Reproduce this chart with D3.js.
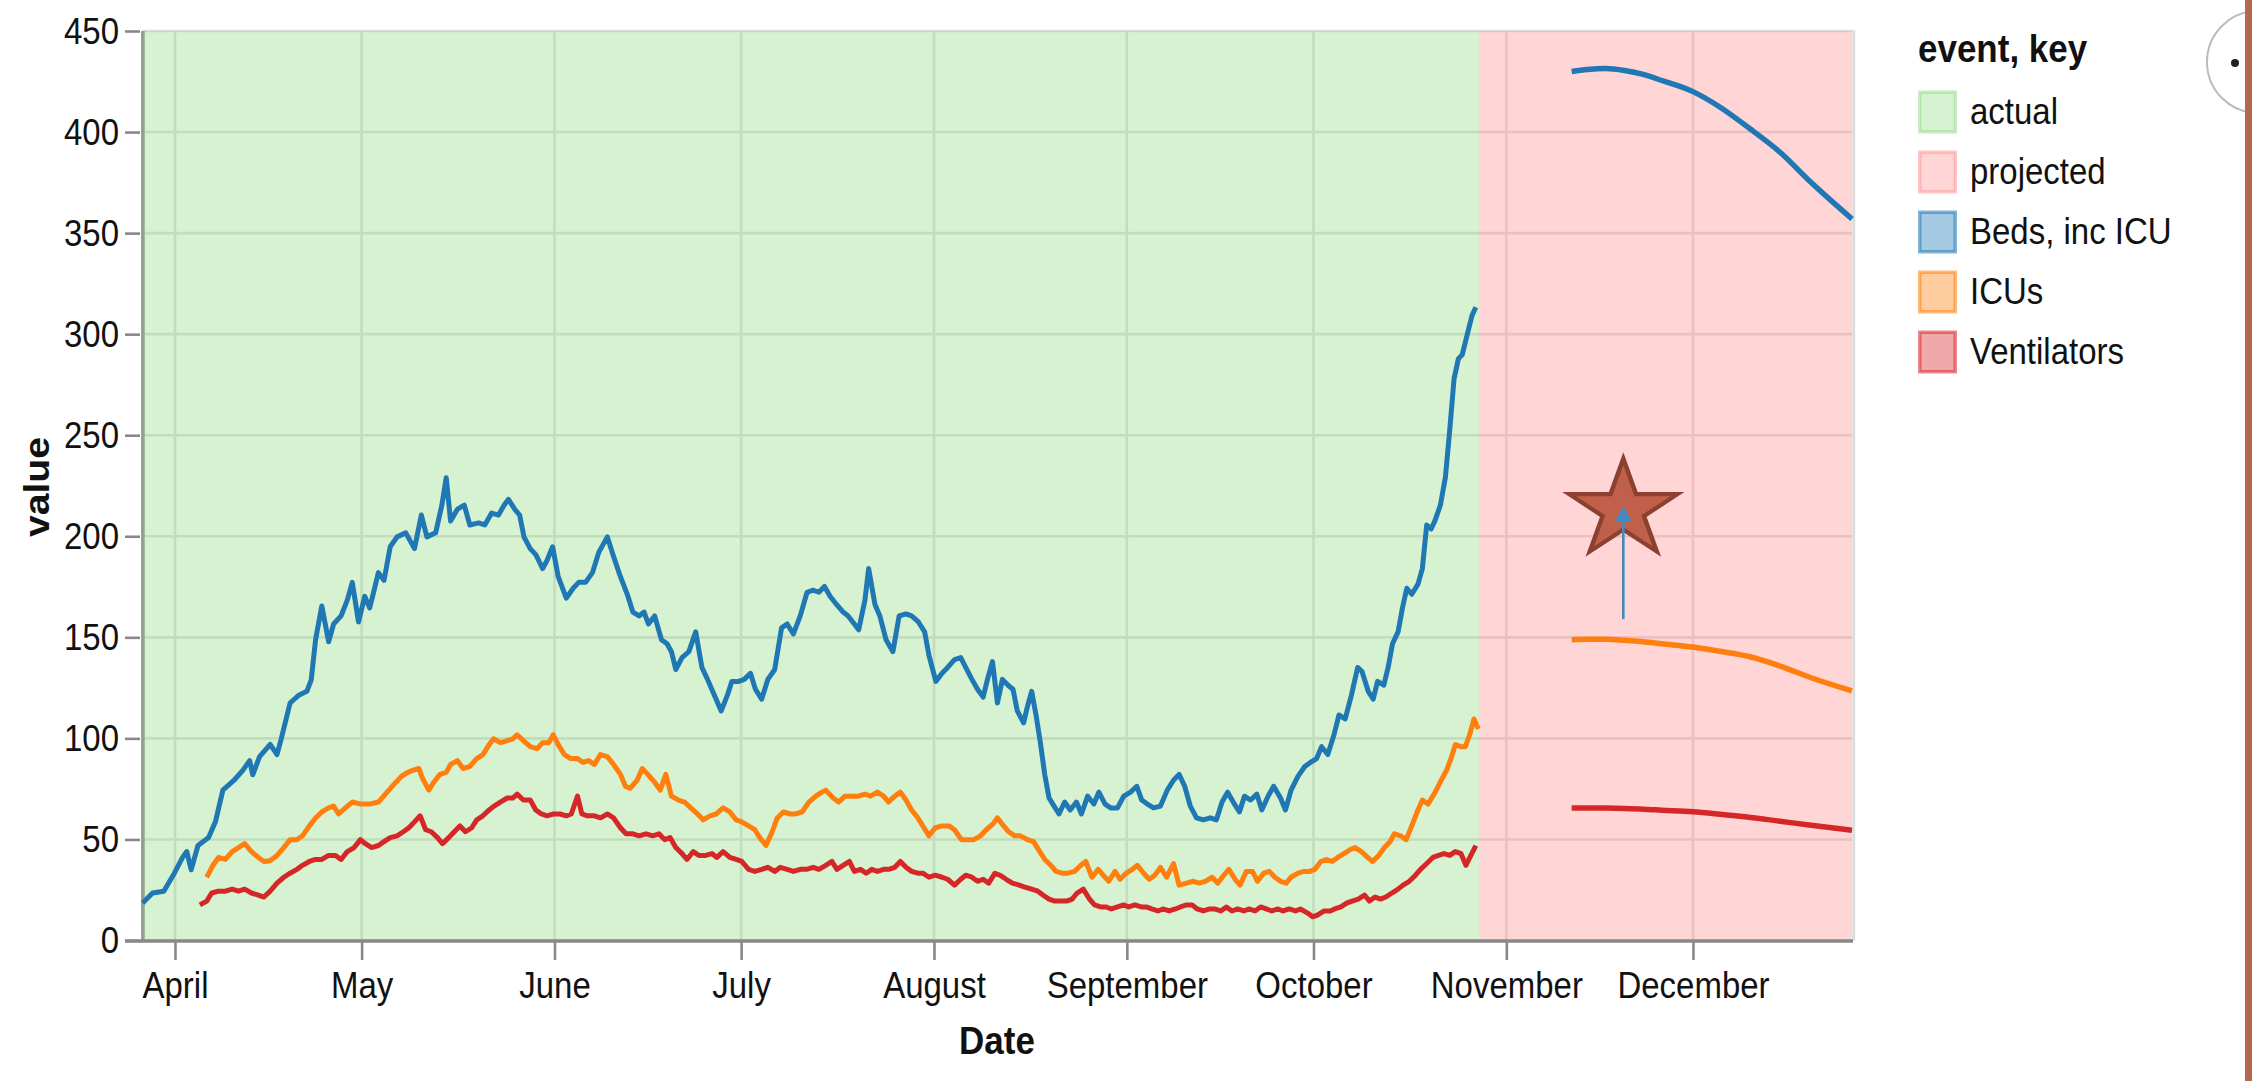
<!DOCTYPE html>
<html><head><meta charset="utf-8">
<script src="https://cdn.jsdelivr.net/npm/d3@7"></script>
<style>body{margin:0;background:#fff;overflow:hidden}svg{display:block}</style>
</head><body>
<svg id="chart" width="2252" height="1081"></svg>
<script>
// ---------------- DATA ----------------
// x positions are days counted from 1 April 2020
const dayZero = "2020-04-01T00:00Z";
const monthTickDays = [0, 30, 61, 91, 122, 153, 183, 214, 244];
const monthTickLabels = ["April","May","June","July","August","September","October","November","December"];
const yTickValues = [0,50,100,150,200,250,300,350,400,450];
const xDomainDays = [-5.22, 269.56];

const eventNames = ["actual","projected"];
const eventStartDays = [-5.22, 209.6];
const eventEndDays   = [209.6, 269.56];

const seriesKeys = ["Beds, inc ICU","ICUs","Ventilators"];

const bedsDays = [-5.2,-3.6,-1.8,-0.1,1.2,1.9,2.6,3.7,5.4,6.5,7.7,9.5,10.9,12,12.5,13.6,15.3,16.4,17.1,18.5,19.9,21.2,21.9,22.6,23.6,24.7,25.5,26.7,27.7,28.5,29.5,30.5,31.3,32.7,33.6,34.6,35.7,37.1,38.5,39.6,40.5,41.9,42.9,43.6,44.3,45.4,46.5,47.4,48.8,49.8,50.9,52,52.9,53.6,54.6,55.4,56.1,57.1,58,59.1,59.8,60.7,61.6,62.9,64,64.9,66,67.1,68.1,69.5,70.5,71.6,72.7,73.6,74.6,75.4,76.1,77.1,78.2,79.1,79.8,80.5,81.5,82.6,83.7,84.7,85.6,86.7,87.8,88.8,89.5,90.6,91.5,92.5,93.3,94.3,95.3,96.4,97.5,98.4,99.4,100.5,101.6,102.6,103.5,104.4,105.3,106.3,107.4,108.2,109.2,109.9,110.9,111.5,112.5,113.3,114.3,115.4,116.4,117.5,118.4,119.5,120.5,121.2,122.3,123.3,124.2,125.3,126.3,127.1,128.1,129,129.9,130.6,131.4,132.2,133,133.9,134.7,135.4,136.4,137,137.7,138.4,139.1,139.8,140.5,141.3,142.1,143,143.9,144.9,145.7,146.7,147.7,148.5,149.5,150.4,151.5,152.5,153.6,154.6,155.4,156.3,157.3,158.4,159.5,160.5,161.4,162.3,163.2,164.2,165.3,166.4,167.4,168.3,169.2,170.1,171.1,171.9,172.9,173.9,174.7,175.7,176.6,177.7,178.5,179.4,180.5,181.6,182.5,183.5,184.3,185.3,186.3,187.1,188.1,189.1,190.1,190.8,191.8,192.6,193.3,194.3,195,195.7,196.6,197.3,198,198.8,199.8,200.5,201.2,201.9,202.5,203.4,204.2,204.9,205.6,206.3,206.9,207.7,208.5,209.1];
const bedsValues = [18.6,23.5,24.4,33.3,41,44,35,47,51,58.7,74.4,79.3,84.2,89,82,91,97,92,100,117.5,121.4,123.3,129,148.8,165.5,147.8,156.6,160.6,168.4,177.2,157.6,170.3,164.5,182,178.2,194.8,199.7,201.7,193.9,210.5,199.7,201.7,215.4,229,207.5,213.4,215.4,205.6,206.6,205.6,211.5,210.5,215.4,218.3,213.4,210.5,199.7,193.9,190.9,184,188,194.8,180,169.4,174.3,177.2,177.2,182,191.9,199.7,190,180,171.3,162.5,160.6,162.5,156.6,160.6,148.8,146.8,142.9,134.1,140,142.9,152.7,135.1,129.2,121.4,113.6,121.4,128.2,128.2,129.2,132.2,124.3,119.4,129.2,134.1,154.7,156.6,151.7,160.6,172.3,173.3,172.3,175.2,170.3,166.4,162.5,160.6,156.6,153.7,168.4,184,166.4,160.6,148.8,142.9,160.6,161.6,160.6,157.6,152.7,141,128.2,132.2,135.1,139,140,135.1,129.2,124.3,120.4,129.2,138,117.5,129.2,126.3,124.3,113.6,107.7,115.5,123.3,111.6,97.9,82.2,70.5,66.5,62.6,68.5,64.6,68.5,62.6,71.4,67.5,73.4,67.5,65.6,65.6,71.4,73.4,76.3,69.5,67.5,65.6,66.5,74.4,79.3,82.2,76.3,66.5,60.7,59.7,60.7,59.7,68.5,73.4,68.5,63.6,71.4,69.5,72.4,64.6,71.4,76.3,70.5,64.6,74.4,81.2,86.1,88.1,90,95.9,92,101.8,111.6,109.6,121.4,135.1,133.1,123.3,119.4,128.2,126.3,135.1,146.8,152.7,164.5,174.3,171.3,176.3,184,205.6,203.6,207.5,215.4,229.1,252.6,278,287.9,289.8,299.6,309.4,313.3];

const icuDays = [5.1,6.1,7,8.1,9.2,10.2,11.2,12.3,13.4,14.3,15.3,16.4,17.5,18.5,19.6,20.5,21.6,22.6,23.6,24.7,25.5,26.3,27.4,28.5,29.9,31.3,32.7,34.1,35.2,36.4,37.4,38.2,39.2,39.8,40.8,41.6,42.6,43.6,44.3,45.4,46.3,47.4,48.5,49.5,50.5,51.2,52.3,53.4,54.3,55,56,57.1,58.2,59.1,60.1,60.8,61.6,62.6,63.6,64.7,65.6,66.5,67.4,68.4,69.5,70.5,71.6,72.4,73.2,74.3,75.1,76,77.1,78,78.9,79.8,80.9,81.9,82.9,84,84.9,86,87,88.1,89.2,90.2,91.1,92.2,93.2,94,95,96,96.8,97.8,98.9,99.8,100.8,101.9,103,104,104.6,105.8,106.7,107.7,108.8,109.9,110.9,111.8,112.9,113.9,114.7,115.7,116.6,117.5,118.4,119.4,120.2,121.2,122.2,123.3,124.4,125.3,126.4,127.4,128.4,129.5,130.4,131.5,132.2,133.2,134,135,135.9,137,138,138.8,139.8,140.8,141.6,142.6,143.5,144.6,145.6,146.4,147.4,148.4,149.2,150.1,151.1,151.9,152.9,153.9,154.7,155.7,156.6,157.5,158.4,159.4,160.5,161.4,162.6,163.7,164.6,165.6,166.7,167.6,168.6,169.4,170.4,171.2,172.2,173.2,174,175,175.9,176.8,177.7,178.6,179.4,180.5,181.5,182.4,183.2,184.2,185,186,186.9,187.9,188.9,189.7,190.7,191.7,192.5,193.5,194.4,195.3,196,197,197.9,198.8,199.8,200.5,201.4,202.2,202.9,203.7,204.4,205.1,205.8,206.7,207.4,208.1,208.8,209.5];
const icuValues = [31.3,37.2,41.1,40.1,44,46,47.9,44,41.1,39.1,39.5,42.1,46,49.9,49.9,51.8,56.7,60.6,63.6,65.6,66.5,62.6,65.6,68.5,67.5,67.5,68.5,73.4,77.3,81.2,83.2,84.2,85.1,80.2,74.4,78.3,82.2,83.2,87.1,89,85.1,86.1,90,92,96.9,99.8,97.9,98.9,99.8,101.8,98.9,95.9,94.9,97.9,97.9,101.8,96.9,92,90,90,88.1,89,87.1,92,91,87.1,82.2,76.3,75.4,79.3,85.1,82.2,78.3,74.4,82.2,71.4,69.5,68.5,65.6,62.6,59.7,61.7,62.6,65.6,63.6,59.7,58.7,56.7,54.8,50.9,47,53.8,60.6,63.6,62.6,62.6,63.6,68.5,71.4,73.4,74.4,70.5,68.5,71.4,71.4,71.4,72.4,71.4,73.4,71.4,68.5,71.4,73.4,69.5,64.6,60.7,56.7,51.8,55.8,56.7,56.7,54.8,49.9,49.9,49.9,51.8,54.8,57.7,60.7,56.7,53.8,51.8,51.8,49.9,48.9,45,40.1,37.2,34.2,33.3,33.3,34.2,37.2,39.1,31.3,35.2,32.3,29.3,34.2,30.3,33.3,35.2,37.2,33.3,30.3,32.3,36.2,31.3,38.1,27.4,28.4,29.3,28.4,29.3,31.3,28.4,32.3,35.2,30.3,27.4,34.2,34.2,29.3,33.3,34.2,31.3,29.3,28.4,31.3,33.3,34.2,34.2,35.2,39.1,40.1,39.1,41.1,43,45,46,44,41.1,39.1,42.1,46,48.9,52.8,51.8,49.9,56.7,64.6,69.5,67.5,71.4,75.4,80.3,84.2,90,96.9,95.9,95.9,101.8,109.6,104.7];

const ventDays = [4,5.1,5.9,7,8.1,9.2,10.2,11.2,12.3,13.4,14.3,15.3,16.4,17.5,18.5,19.6,20.5,21.6,22.6,23.6,24.7,25.8,26.7,27.7,28.8,29.8,30.6,31.6,32.7,33.6,34.6,35.7,36.7,37.6,38.5,39.4,40.3,41.2,42.2,43,44,44.9,45.8,46.7,47.7,48.5,49.5,50.5,51.3,52.3,53.4,54.3,55,56,57.1,58,58.9,59.8,60.8,61.9,62.9,63.7,64.7,65.4,66.3,67.4,68.4,69.5,70.5,71.6,72.5,73.6,74.6,75.7,76.8,77.8,78.7,79.6,80.5,81.5,82.3,83.3,84.2,85.3,86.3,87.1,88.1,89.2,90.2,91.1,92.2,93.2,94.3,95.3,96.4,97.3,98.4,99.4,100.5,101.5,102.6,103.5,104.6,105.6,106.4,107.4,108.4,109.2,110.2,111.1,112,112.9,113.9,114.7,115.7,116.6,117.5,118.4,119.4,120.2,121.2,122.2,123.3,124.2,125.3,126.3,127.1,128.1,129,129.9,130.8,131.8,132.6,133.6,134.6,135.7,136.6,137.7,138.7,139.5,140.5,141.4,142.3,143.3,144.2,145,146,147,147.8,148.8,149.7,150.5,151.5,152.5,153.3,154.3,155.3,156.1,157,158,158.8,159.8,160.8,161.6,162.6,163.5,164.3,165.3,166.3,167.1,168.1,169,169.9,170.8,171.8,172.6,173.6,174.5,175.4,176.3,177.3,178.1,179.1,180.1,180.9,182,182.9,183.7,184.7,185.7,186.4,187.4,188.4,189.2,190.2,191.2,192,192.9,193.8,194.6,195.6,196.6,197.4,198.4,199.4,200.2,201.2,202.2,203.1,204,204.9,205.8,206.7,207.5,208.3,209.1];
const ventValues = [17.6,19.5,23.5,24.4,24.4,25.4,24.4,25.4,23.5,22.5,21.5,24.4,28.4,31.3,33.3,35.2,37.2,39.1,40.1,40.1,42.1,42.1,40.1,44,46,49.9,47.9,46,47,48.9,50.9,51.8,53.8,55.8,58.7,61.7,54.8,53.8,50.9,47.9,50.9,53.8,56.7,53.8,55.8,59.7,61.7,64.6,66.5,68.5,70.5,70.5,72.4,69.5,69.5,64.6,62.6,61.7,62.6,62.6,61.7,62.6,71.4,62.6,61.7,61.7,60.7,62.6,60.7,55.8,52.8,52.8,51.8,52.8,51.8,52.8,49.9,50.9,46,43,40.1,44,42.1,42.1,43,41.1,44,41.1,40.1,39.1,35.2,34.2,35.2,36.2,34.2,36.2,35.2,34.2,35.2,35.2,36.2,35.2,37.2,39.1,35.2,37.2,39.1,34.2,35.2,33.3,35.2,34.2,35.2,35.2,36.2,39.1,36.2,34.2,33.3,33.3,31.3,32.3,31.3,30.3,27.4,30.3,32.3,31.3,29.3,30.3,28.4,33.3,32.3,30.3,28.4,27.4,26.4,25.4,24.4,22.5,20.5,19.5,19.5,19.5,20.5,23.5,25.4,20.5,17.6,16.6,16.6,15.6,16.6,17.6,16.6,17.6,16.6,16.6,15.6,14.6,15.6,14.6,15.6,16.6,17.6,17.6,15.6,14.6,15.6,15.6,14.6,16.6,14.6,15.6,14.6,15.6,14.6,16.6,15.6,14.6,15.6,14.6,15.6,14.6,15.6,13.7,11.7,12.7,14.6,14.6,15.6,16.6,18.6,19.5,20.5,22.5,19.5,21.5,20.5,21.5,23.5,25.4,27.4,29.3,32.3,35.2,38.1,41.1,42.1,43,42.1,44,43,37.2,42.1,47];

const projDays = [224.5,227,230,233,236,239,244,248,253,258,263,269.56];
const bedsProj = [430,431,431.5,430.5,428.5,425.5,420,413,402,390,375,357];
const icuProj  = [148.8,149,149,148.5,147.8,146.8,145.2,143.2,140.5,135.8,130,123.5];
const ventProj = [65.6,65.6,65.5,65.3,65,64.5,63.7,62.6,61,59,57,54.6];

const starDay = 232.8;
const starValue = 213;
const arrowFromValue = 159;
const arrowToValue = 215;

// ---------------- COLORS ----------------
const eventColors = ["#98df8a","#ff9896"];
const seriesColors = ["#1f77b4","#ff7f0e","#d62728"];

// ---------------- SCALES ----------------
const H = 1081;
const t0 = new Date(dayZero).getTime();
const toDate = d => new Date(t0 + d * 864e5);

const x = d3.scaleUtc().domain(xDomainDays.map(toDate)).range([142.5, 1852]);
const y = d3.scaleLinear().domain([0, 450]).range([940.5, 31]);

const svg = d3.select("#chart");
const FONT = "'Liberation Sans', Arial, Helvetica, sans-serif";
const STRETCH = 1.12;

// grid (under the tinted event rects)
const grid = svg.append("g");
grid.selectAll("line.v").data(monthTickDays).join("line")
  .attr("x1", d => x(toDate(d))).attr("x2", d => x(toDate(d)))
  .attr("y1", y(450)).attr("y2", y(0))
  .attr("stroke", "#ddd").attr("stroke-width", 2.6);
grid.selectAll("line.h").data(yTickValues).join("line")
  .attr("x1", x.range()[0]).attr("x2", x.range()[1])
  .attr("y1", d => y(d)).attr("y2", d => y(d))
  .attr("stroke", "#ddd").attr("stroke-width", 2.6);

// y axis
const yAxis = svg.append("g").attr("transform", "translate(140,0)")
  .call(d3.axisLeft(y).tickValues(yTickValues).tickSize(15).tickPadding(6));
yAxis.select(".domain").remove();
yAxis.selectAll(".tick line").attr("stroke", "#888").attr("stroke-width", 2.6);
yAxis.selectAll(".tick text")
  .attr("x", null).attr("dy", null)
  .attr("transform", "translate(-21,12) scale(1," + STRETCH + ")")
  .attr("font-family", FONT).attr("font-size", 33).attr("fill", "#111");
svg.append("line").attr("x1", 143).attr("x2", 143).attr("y1", y(450)).attr("y2", y(0))
  .attr("stroke", "#888").attr("stroke-width", 3.5);

// event background rects
svg.append("g").selectAll("rect").data(eventNames).join("rect")
  .attr("x", (d, i) => x(toDate(eventStartDays[i])))
  .attr("width", (d, i) => x(toDate(eventEndDays[i])) - x(toDate(eventStartDays[i])))
  .attr("y", y(450)).attr("height", y(0) - y(450))
  .attr("fill", (d, i) => eventColors[i]).attr("fill-opacity", 0.4);

// right view border
svg.append("line").attr("x1", 1853.7).attr("x2", 1853.7).attr("y1", y(450) - 1).attr("y2", y(0))
  .attr("stroke", "#ddd").attr("stroke-width", 3);

// x axis
const xAxis = svg.append("g").attr("transform", "translate(0,941)")
  .call(d3.axisBottom(x).tickValues(monthTickDays.map(toDate))
    .tickFormat((d, i) => monthTickLabels[i]).tickSize(19).tickPadding(6));
xAxis.select(".domain").remove();
xAxis.selectAll(".tick line").attr("stroke", "#888").attr("stroke-width", 2.6);
xAxis.selectAll(".tick text")
  .attr("y", null).attr("dy", null)
  .attr("transform", "translate(0,57) scale(1," + STRETCH + ")")
  .attr("font-family", FONT).attr("font-size", 33).attr("fill", "#111");
svg.append("line").attr("x1", 125).attr("x2", 1853).attr("y1", 941).attr("y2", 941)
  .attr("stroke", "#888").attr("stroke-width", 3.6);

// axis titles
svg.append("text").attr("transform", "translate(997,1054) scale(1," + STRETCH + ")")
  .attr("text-anchor", "middle").attr("font-family", FONT).attr("font-weight", "bold")
  .attr("font-size", 35).attr("fill", "#111").text("Date");
svg.append("text").attr("transform", "translate(49,487) scale(1," + STRETCH + ") rotate(-90)")
  .attr("text-anchor", "middle").attr("font-family", FONT).attr("font-weight", "bold")
  .attr("font-size", 35).attr("fill", "#111").text("value");

// lines
const line = d3.line().x(d => x(d.date)).y(d => y(d.value));
const smooth = d3.line().x(d => x(d.date)).y(d => y(d.value)).curve(d3.curveMonotoneX);
const actualSeries = [[bedsDays, bedsValues],[icuDays, icuValues],[ventDays, ventValues]]
  .map(([ds, vs]) => ds.map((d, i) => ({date: toDate(d), value: vs[i]})));
const projSeries = [bedsProj, icuProj, ventProj]
  .map(vs => projDays.map((d, i) => ({date: toDate(d), value: vs[i]})));

const lines = svg.append("g").attr("fill", "none").attr("stroke-linejoin", "round").attr("stroke-linecap", "butt");
lines.selectAll("path.a").data(actualSeries).join("path")
  .attr("d", line).attr("stroke", (d, i) => seriesColors[i]).attr("stroke-width", 5);
lines.selectAll("path.p").data(projSeries).join("path")
  .attr("d", smooth).attr("stroke", (d, i) => seriesColors[i]).attr("stroke-width", 5.5);

// star annotation with arrow
const sx = x(toDate(starDay));
svg.append("path")
  .attr("d", d3.symbol(d3.symbolStar, 3650)())
  .attr("transform", `translate(${sx},${y(starValue)}) scale(1,0.9)`)
  .attr("fill", "#c0604a").attr("stroke", "#8b4030").attr("stroke-width", 4.5);
svg.append("line").attr("x1", sx).attr("x2", sx)
  .attr("y1", y(arrowFromValue)).attr("y2", y(arrowToValue) + 14)
  .attr("stroke", "#408abe").attr("stroke-width", 2.6);
svg.append("path")
  .attr("d", d3.line()([[sx, y(arrowToValue)], [sx - 8, y(arrowToValue) + 15], [sx + 8, y(arrowToValue) + 15]]) + "Z")
  .attr("fill", "#408abe");

// legend
const legendItems = eventNames.concat(seriesKeys);
const legendColors = eventColors.concat(seriesColors);
const legend = svg.append("g").attr("transform", "translate(1918,0)");
legend.append("text").attr("transform", "translate(0,62) scale(1," + STRETCH + ")")
  .attr("font-family", FONT).attr("font-weight", "bold").attr("font-size", 35)
  .attr("fill", "#111").text("event, key");
const li = legend.selectAll("g.item").data(legendItems).join("g")
  .attr("transform", (d, i) => `translate(0,${112 + i * 60})`);
li.append("rect").attr("x", 1.75).attr("y", -19.75).attr("width", 35.5).attr("height", 39.5)
  .attr("fill", (d, i) => legendColors[i]).attr("fill-opacity", 0.4)
  .attr("stroke", (d, i) => legendColors[i]).attr("stroke-opacity", 0.55).attr("stroke-width", 3.5);
li.append("text").attr("transform", "translate(52,12) scale(1," + STRETCH + ")")
  .attr("font-family", FONT).attr("font-size", 33).attr("fill", "#111").text(d => d);

// top-right widget remnants
svg.append("circle").attr("cx", 2258).attr("cy", 62).attr("r", 51)
  .attr("fill", "none").attr("stroke", "#bbb").attr("stroke-width", 2);
svg.append("circle").attr("cx", 2235).attr("cy", 63).attr("r", 4).attr("fill", "#222");
svg.append("rect").attr("x", 2245).attr("y", 0).attr("width", 7).attr("height", H).attr("fill", "#b8674f");
</script>
</body></html>
